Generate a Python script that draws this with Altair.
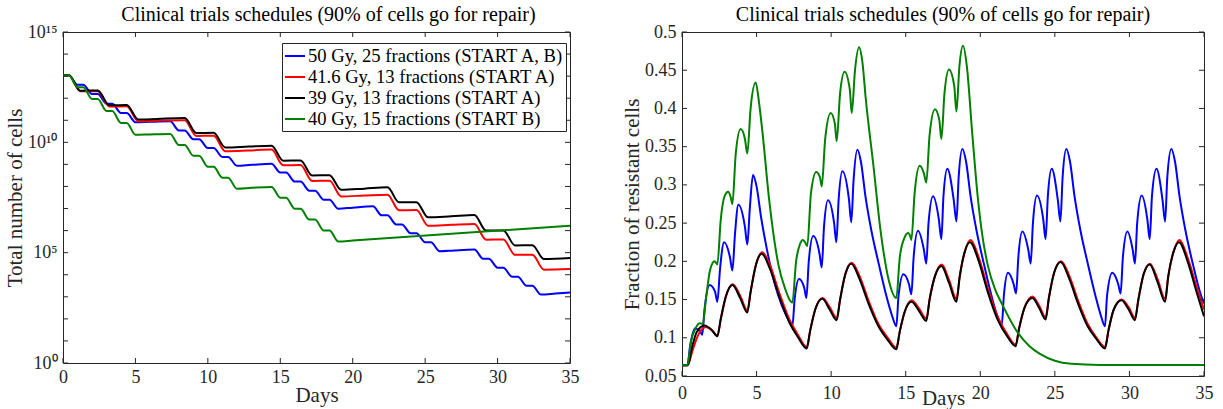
import altair as alt
import pandas as pd

FONT = "Liberation Serif"
INK = "#262626"

TITLE = "Clinical trials schedules (90% of cells go for repair)"
SERIES = ["50 Gy, 25 fractions (START A, B)", "41.6 Gy, 13 fractions (START A)",
          "39 Gy, 13 fractions (START A)", "40 Gy, 15 fractions (START B)"]
COLORS = ["#0000ff", "#ff0000", "#000000", "#008000"]

DAY_TICKS = [0, 5, 10, 15, 20, 25, 30, 35]
CELL_DECADES = list(range(16))
CELL_LABELS = [1, 1e5, 1e10, 1e15]
FRAC_TICKS = [0.05, 0.1, 0.15, 0.2, 0.25, 0.3, 0.35, 0.4, 0.45, 0.5]

# ---------- left panel: total number of cells (log10 exponent)
cells_blue_day = [0, 0.4, 1.0, 1.4, 2.0, 2.4, 3.0, 3.4, 4.0, 4.4, 5.0, 6.0, 7.4,
                  8.0, 8.4, 9.0, 9.4, 10.0, 10.4, 11.0, 11.4, 12.0, 13.0, 14.4,
                  15.0, 15.4, 16.0, 16.4, 17.0, 17.4, 18.0, 18.4, 19.0, 20.0, 21.4,
                  22.0, 22.4, 23.0, 23.4, 24.0, 24.4, 25.0, 25.4, 26.0, 27.0, 28.4,
                  29.0, 29.4, 30.0, 30.4, 31.0, 31.4, 32.0, 32.4, 33.0, 34.0, 35.0]
cells_blue_exp = [13.04, 13.04, 12.61, 12.61, 12.19, 12.19, 11.75, 11.75, 11.33, 11.33, 10.91, 10.93, 10.95,
                  10.54, 10.54, 10.14, 10.14, 9.74, 9.74, 9.34, 9.34, 8.94, 8.98, 9.03,
                  8.63, 8.63, 8.22, 8.22, 7.81, 7.81, 7.40, 7.40, 6.99, 7.04, 7.10,
                  6.69, 6.69, 6.28, 6.28, 5.88, 5.88, 5.47, 5.47, 5.06, 5.10, 5.14,
                  4.73, 4.73, 4.32, 4.32, 3.91, 3.91, 3.50, 3.50, 3.10, 3.15, 3.20]

cells_red_day = [0, 0.4, 1.2, 2.4, 3.2, 4.4, 5.2, 6.5, 8.4, 9.2, 10.4, 11.2, 12.8, 14.4,
                 15.2, 16.4, 17.2, 18.4, 19.2, 20.8, 22.4, 23.2, 24.4, 25.2, 26.8, 28.4,
                 29.2, 30.4, 31.2, 32.4, 33.2, 35.0]
cells_red_exp = [13.04, 13.04, 12.31, 12.32, 11.62, 11.63, 10.96, 10.98, 11.00, 10.29, 10.30, 9.60, 9.63, 9.67,
                 8.96, 8.97, 8.25, 8.26, 7.55, 7.59, 7.63, 6.92, 6.93, 6.22, 6.26, 6.30,
                 5.59, 5.60, 4.90, 4.91, 4.23, 4.26]

cells_black_day = [0, 0.4, 1.2, 2.4, 3.2, 4.4, 5.2, 6.5, 8.4, 9.2, 10.4, 11.2, 12.8, 14.4,
                   15.2, 16.4, 17.2, 18.4, 19.2, 20.8, 22.4, 23.2, 24.4, 25.2, 26.8, 28.4,
                   29.2, 30.4, 31.2, 32.4, 33.2, 35.0]
cells_black_exp = [13.04, 13.04, 12.34, 12.35, 11.68, 11.69, 11.03, 11.06, 11.10, 10.42, 10.43, 9.77, 9.81, 9.85,
                   9.17, 9.18, 8.50, 8.51, 7.85, 7.90, 7.96, 7.28, 7.29, 6.60, 6.65, 6.71,
                   6.00, 6.01, 5.33, 5.34, 4.71, 4.76]

cells_green_day = [0, 0.4, 1.0, 1.4, 2.0, 2.4, 3.0, 3.4, 4.0, 4.4, 5.0, 6.0, 7.4,
                   8.0, 8.4, 9.0, 9.4, 10.0, 10.4, 11.0, 11.4, 12.0, 13.0, 14.4,
                   15.0, 15.4, 16.0, 16.4, 17.0, 17.4, 18.0, 18.4, 19.0, 20.0, 35.0]
cells_green_exp = [13.04, 13.04, 12.50, 12.50, 11.96, 11.96, 11.42, 11.42, 10.88, 10.88, 10.34, 10.36, 10.38,
                   9.88, 9.88, 9.39, 9.39, 8.89, 8.89, 8.40, 8.40, 7.90, 7.94, 7.98,
                   7.49, 7.49, 6.99, 6.99, 6.50, 6.50, 6.00, 6.00, 5.51, 5.55, 6.22]

# ---------- right panel: fraction of resistant cells
frac_blue_day = [0, 0.36, 0.55, 0.87, 1.2, 1.36, 1.5, 1.86, 2.22, 2.37, 2.55, 2.82, 3.22, 3.38, 3.55, 3.78,
                 4.22, 4.38, 4.55, 4.76, 5.0, 5.3, 5.7, 6.2, 6.7, 7.1, 7.4,
                 7.55, 7.85, 8.2, 8.34, 8.5, 8.8, 9.22, 9.37, 9.52, 9.79, 10.2, 10.35, 10.5, 10.75,
                 11.2, 11.35, 11.5, 11.76, 12.0, 12.3, 12.7, 13.2, 13.7, 14.1, 14.37,
                 14.52, 14.84, 15.22, 15.38, 15.53, 15.82, 16.22, 16.38, 16.53, 16.83, 17.22, 17.39,
                 17.53, 17.79, 18.22, 18.4, 18.55, 18.8, 19.05, 19.35, 19.75, 20.25, 20.75, 21.15, 21.44,
                 21.58, 21.86, 22.24, 22.4, 22.55, 22.82, 23.22, 23.38, 23.53, 23.8, 24.22, 24.38,
                 24.53, 24.79, 25.2, 25.37, 25.52, 25.77, 26.02, 26.32, 26.72, 27.22, 27.72, 28.1, 28.36,
                 28.5, 28.85, 29.25, 29.41, 29.56, 29.86, 30.22, 30.37, 30.52, 30.82, 31.2, 31.36,
                 31.51, 31.81, 32.22, 32.39, 32.54, 32.81, 33.06, 33.36, 33.76, 34.26, 34.76, 35.0]
frac_blue_val = [0.064, 0.064, 0.09, 0.112, 0.109, 0.104, 0.135, 0.169, 0.16, 0.147, 0.19, 0.225, 0.205, 0.188, 0.235, 0.274,
                 0.245, 0.222, 0.27, 0.313, 0.298, 0.258, 0.215, 0.172, 0.142, 0.125, 0.115,
                 0.15, 0.177, 0.165, 0.152, 0.2, 0.233, 0.21, 0.192, 0.245, 0.28, 0.25, 0.225, 0.28, 0.318,
                 0.28, 0.251, 0.305, 0.346, 0.33, 0.285, 0.24, 0.196, 0.155, 0.128, 0.115,
                 0.155, 0.183, 0.17, 0.157, 0.205, 0.24, 0.215, 0.197, 0.25, 0.285, 0.255, 0.229,
                 0.285, 0.321, 0.28, 0.252, 0.31, 0.347, 0.33, 0.285, 0.24, 0.196, 0.155, 0.128, 0.117,
                 0.155, 0.185, 0.17, 0.158, 0.205, 0.239, 0.215, 0.197, 0.25, 0.286, 0.255, 0.229,
                 0.285, 0.321, 0.28, 0.252, 0.31, 0.347, 0.33, 0.285, 0.24, 0.196, 0.155, 0.128, 0.115,
                 0.155, 0.185, 0.17, 0.158, 0.205, 0.239, 0.215, 0.197, 0.25, 0.286, 0.255, 0.229,
                 0.285, 0.321, 0.28, 0.252, 0.31, 0.347, 0.33, 0.285, 0.24, 0.196, 0.158, 0.145]

frac_red_day = [0, 0.38, 0.7, 1.0, 1.6, 2.0, 2.37, 2.6, 2.95, 3.4, 3.9, 4.38, 4.6, 4.95, 5.38, 5.9, 6.5, 7.2, 7.8, 8.36,
                8.6, 8.95, 9.43, 9.9, 10.37, 10.6, 10.95, 11.38, 11.9, 12.5, 13.2, 13.8, 14.37,
                14.6, 14.95, 15.4, 15.9, 16.38, 16.6, 16.95, 17.42, 17.9, 18.4, 18.62, 18.95, 19.35,
                19.9, 20.5, 21.2, 21.8, 22.37, 22.6, 22.98, 23.5, 23.95, 24.38, 24.6, 24.95, 25.42,
                25.95, 26.55, 27.2, 27.8, 28.36, 28.6, 28.95, 29.48, 29.95, 30.37, 30.6, 30.95, 31.38,
                31.9, 32.39, 32.6, 32.95, 33.36, 33.9, 34.5, 35.0]
frac_red_val = [0.064, 0.064, 0.083, 0.1, 0.114, 0.11, 0.103, 0.124, 0.154, 0.17, 0.155, 0.136, 0.16, 0.195, 0.212, 0.195, 0.16, 0.124, 0.103, 0.088,
                0.11, 0.138, 0.152, 0.14, 0.126, 0.15, 0.183, 0.198, 0.181, 0.149, 0.117, 0.1, 0.087,
                0.108, 0.135, 0.149, 0.138, 0.125, 0.15, 0.18, 0.196, 0.176, 0.151, 0.18, 0.212, 0.228,
                0.205, 0.165, 0.126, 0.105, 0.091, 0.112, 0.14, 0.154, 0.142, 0.127, 0.152, 0.185, 0.2,
                0.182, 0.149, 0.118, 0.1, 0.088, 0.11, 0.137, 0.15, 0.14, 0.126, 0.15, 0.183, 0.197,
                0.176, 0.151, 0.18, 0.212, 0.228, 0.205, 0.167, 0.137]

frac_black_day = [0, 0.38, 0.7, 1.0, 1.5, 2.0, 2.37, 2.6, 2.95, 3.38, 3.9, 4.38, 4.6, 4.95, 5.34, 5.9, 6.5, 7.2, 7.8, 8.36,
                  8.6, 8.95, 9.41, 9.9, 10.37, 10.6, 10.95, 11.35, 11.9, 12.5, 13.2, 13.8, 14.37,
                  14.6, 14.95, 15.38, 15.9, 16.38, 16.6, 16.95, 17.39, 17.9, 18.4, 18.62, 18.95, 19.31,
                  19.9, 20.5, 21.2, 21.8, 22.37, 22.6, 22.98, 23.49, 23.95, 24.38, 24.6, 24.95, 25.39,
                  25.95, 26.55, 27.2, 27.8, 28.36, 28.6, 28.95, 29.47, 29.95, 30.37, 30.6, 30.95, 31.36,
                  31.9, 32.39, 32.6, 32.95, 33.33, 33.9, 34.5, 35.0]
frac_black_val = [0.064, 0.064, 0.09, 0.108, 0.116, 0.11, 0.102, 0.125, 0.155, 0.169, 0.152, 0.133, 0.16, 0.195, 0.21, 0.19, 0.155, 0.12, 0.1, 0.086,
                  0.11, 0.138, 0.151, 0.137, 0.123, 0.15, 0.183, 0.197, 0.177, 0.145, 0.114, 0.097, 0.085,
                  0.108, 0.135, 0.147, 0.135, 0.122, 0.15, 0.18, 0.194, 0.172, 0.147, 0.18, 0.212, 0.225,
                  0.2, 0.16, 0.122, 0.102, 0.089, 0.112, 0.14, 0.152, 0.139, 0.124, 0.152, 0.185, 0.199,
                  0.178, 0.145, 0.115, 0.098, 0.086, 0.11, 0.137, 0.149, 0.137, 0.123, 0.15, 0.183, 0.196,
                  0.172, 0.147, 0.18, 0.212, 0.225, 0.2, 0.16, 0.128]

frac_green_day = [0, 0.36, 0.6, 0.92, 1.2, 1.4, 1.6, 1.9, 2.19, 2.37, 2.6, 2.85, 3.1, 3.25, 3.38, 3.6, 3.93,
                  4.22, 4.38, 4.6, 4.94, 5.15, 5.39, 5.83, 6.46, 6.9, 7.4,
                  7.65, 7.9, 8.11, 8.28, 8.4, 8.65, 9.0, 9.25, 9.37, 9.6, 9.97, 10.25, 10.37, 10.6, 10.9,
                  11.25, 11.38, 11.6, 11.87, 12.1, 12.32, 12.83, 13.32, 13.88, 14.37,
                  14.6, 14.9, 15.15, 15.3, 15.38, 15.6, 15.94, 16.22, 16.38, 16.6, 16.96, 17.25, 17.39,
                  17.6, 17.9, 18.25, 18.4, 18.6, 18.84, 19.1, 19.45, 19.8, 20.1, 20.5, 21.0, 21.46,
                  22.5, 23.3, 24.0, 25.0, 26.1, 28.0, 35.0]
frac_green_val = [0.064, 0.064, 0.095, 0.113, 0.119, 0.118, 0.15, 0.19, 0.2, 0.196, 0.255, 0.285, 0.291, 0.285, 0.275, 0.34, 0.373,
                  0.36, 0.341, 0.4, 0.434, 0.41, 0.37, 0.283, 0.196, 0.165, 0.146,
                  0.2, 0.222, 0.228, 0.224, 0.22, 0.29, 0.317, 0.31, 0.298, 0.36, 0.394, 0.38, 0.357, 0.42, 0.448,
                  0.425, 0.394, 0.45, 0.48, 0.46, 0.413, 0.326, 0.239, 0.174, 0.152,
                  0.205, 0.23, 0.237, 0.233, 0.228, 0.29, 0.325, 0.315, 0.303, 0.365, 0.399, 0.385, 0.36,
                  0.42, 0.451, 0.43, 0.396, 0.455, 0.482, 0.455, 0.37, 0.29, 0.239, 0.195, 0.163, 0.144,
                  0.107, 0.089, 0.079, 0.07, 0.066, 0.0645, 0.0645]

# ---------- tables
left_rows = []
for name, days, exps in zip(SERIES,
                            [cells_blue_day, cells_red_day, cells_black_day, cells_green_day],
                            [cells_blue_exp, cells_red_exp, cells_black_exp, cells_green_exp]):
    for d, e in zip(days, exps):
        left_rows.append({"series": name, "day": d, "cells": 10.0 ** e})
left_df = pd.DataFrame(left_rows)

right_rows = []
for name, days, vals in zip(SERIES,
                            [frac_blue_day, frac_red_day, frac_black_day, frac_green_day],
                            [frac_blue_val, frac_red_val, frac_black_val, frac_green_val]):
    for d, v in zip(days, vals):
        right_rows.append({"series": name, "day": d, "frac": v})
right_df = pd.DataFrame(right_rows)

W1, H1 = 507, 331
W2, H2 = 522, 344
TL = 5  # inward tick length

color_scale = alt.Scale(domain=SERIES, range=COLORS)
legend = alt.Legend(title=None, orient="none", legendX=219, legendY=11,
                    symbolType="stroke", symbolSize=400, symbolStrokeWidth=2,
                    labelFont=FONT, labelFontSize=18.6, labelColor="#000", labelLimit=500,
                    labelOffset=2, rowPadding=0, padding=2,
                    strokeColor=INK, fillColor="white")

def title_params(dx):
    return alt.TitleParams(TITLE, font=FONT, fontSize=20, fontWeight="normal", color="#000",
                           anchor="middle", frame="group", offset=-2, dx=dx)

# ---------- left chart
x1 = alt.Scale(domain=[0, 35], nice=False)
y1 = alt.Scale(type="log", domain=[1, 1e15], nice=False)
x1_axis = alt.Axis(values=DAY_TICKS, title="Days", grid=False, ticks=False, domain=False,
                   labelFont=FONT, labelFontSize=18, labelColor=INK, labelPadding=5,
                   labelFlush=False, labelOverlap=False,
                   titleFont=FONT, titleFontSize=21, titleFontWeight="normal", titleColor=INK,
                   titleY=38, titleBaseline="alphabetic")
y1_axis = alt.Axis(values=CELL_LABELS, title="Total number of cells", grid=False, ticks=False, domain=False,
                   labelExpr="datum.value < 10 ? '10⁰' : datum.value < 1e6 ? '10⁵' : datum.value < 1e11 ? '10¹⁰' : '10¹⁵'",
                   labelFont=FONT, labelFontSize=18, labelColor=INK, labelPadding=6, labelOverlap=False,
                   titleFont=FONT, titleFontSize=21, titleFontWeight="normal", titleColor=INK, titlePadding=2)

left_lines = [
    alt.Chart(left_df).transform_filter(alt.datum.series == name)
    .mark_line(interpolate="monotone", strokeWidth=2, clip=True)
    .encode(x=alt.X("day:Q", scale=x1, axis=x1_axis),
            y=alt.Y("cells:Q", scale=y1, axis=y1_axis),
            color=alt.Color("series:N", scale=color_scale, legend=legend))
    for name in SERIES
]
xt = pd.DataFrame({"day": DAY_TICKS})
yt1 = pd.DataFrame({"cells": [10.0 ** k for k in CELL_DECADES]})
left_ticks = [
    alt.Chart(xt).mark_rule(color=INK, strokeWidth=1).encode(
        x=alt.X("day:Q", scale=x1, axis=x1_axis), y=alt.value(H1), y2=alt.value(H1 - TL)),
    alt.Chart(xt).mark_rule(color=INK, strokeWidth=1).encode(
        x=alt.X("day:Q", scale=x1, axis=x1_axis), y=alt.value(0), y2=alt.value(TL)),
    alt.Chart(yt1).mark_rule(color=INK, strokeWidth=1).encode(
        y=alt.Y("cells:Q", scale=y1, axis=y1_axis), x=alt.value(0), x2=alt.value(TL)),
    alt.Chart(yt1).mark_rule(color=INK, strokeWidth=1).encode(
        y=alt.Y("cells:Q", scale=y1, axis=y1_axis), x=alt.value(W1), x2=alt.value(W1 - TL)),
]
left = alt.layer(*left_lines, *left_ticks).properties(width=W1, height=H1, title=title_params(12))

# ---------- right chart
x2 = alt.Scale(domain=[0, 35], nice=False)
y2 = alt.Scale(domain=[0.05, 0.5], nice=False, zero=False)
x2_axis = alt.Axis(values=DAY_TICKS, title="Days", grid=False, ticks=False, domain=False,
                   labelFont=FONT, labelFontSize=18, labelColor=INK, labelPadding=8,
                   labelFlush=False, labelOverlap=False,
                   titleFont=FONT, titleFontSize=21, titleFontWeight="normal", titleColor=INK,
                   titleY=28, titleBaseline="alphabetic")
y2_axis = alt.Axis(values=FRAC_TICKS, format="~g", title="Fraction of resistant cells", grid=False,
                   ticks=False, domain=False,
                   labelFont=FONT, labelFontSize=18, labelColor=INK, labelPadding=6, labelOverlap=False,
                   titleFont=FONT, titleFontSize=21, titleFontWeight="normal", titleColor=INK, titlePadding=2)

right_lines = [
    alt.Chart(right_df).transform_filter(alt.datum.series == name)
    .mark_line(interpolate="monotone", strokeWidth=2, clip=True, color=col)
    .encode(x=alt.X("day:Q", scale=x2, axis=x2_axis),
            y=alt.Y("frac:Q", scale=y2, axis=y2_axis))
    for name, col in zip(SERIES, COLORS)
]
yt2 = pd.DataFrame({"frac": FRAC_TICKS})
right_ticks = [
    alt.Chart(xt).mark_rule(color=INK, strokeWidth=1).encode(
        x=alt.X("day:Q", scale=x2, axis=x2_axis), y=alt.value(H2), y2=alt.value(H2 - TL)),
    alt.Chart(xt).mark_rule(color=INK, strokeWidth=1).encode(
        x=alt.X("day:Q", scale=x2, axis=x2_axis), y=alt.value(0), y2=alt.value(TL)),
    alt.Chart(yt2).mark_rule(color=INK, strokeWidth=1).encode(
        y=alt.Y("frac:Q", scale=y2, axis=y2_axis), x=alt.value(0), x2=alt.value(TL)),
    alt.Chart(yt2).mark_rule(color=INK, strokeWidth=1).encode(
        y=alt.Y("frac:Q", scale=y2, axis=y2_axis), x=alt.value(W2), x2=alt.value(W2 - TL)),
]
right = alt.layer(*right_lines, *right_ticks).properties(width=W2, height=H2, title=title_params(0))

chart = (
    alt.hconcat(left, right, spacing=41)
    .resolve_scale(x="independent", y="independent", color="independent")
    .properties(padding={"left": 3, "top": 4, "right": 5, "bottom": 0}, background="white")
    .configure_view(stroke=INK, strokeWidth=1)
)

chart.save("out.html", embed_options={"renderer": "svg", "actions": False})
